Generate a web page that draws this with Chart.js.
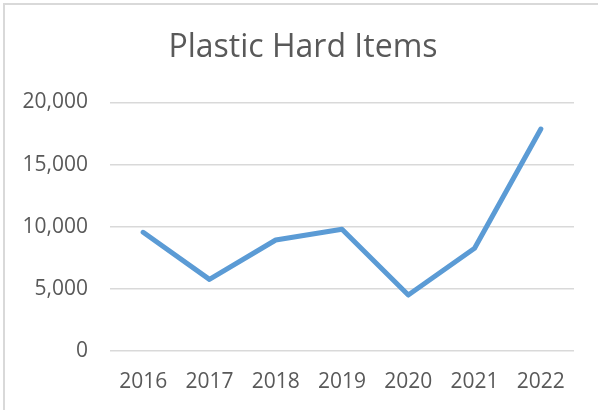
<!DOCTYPE html>
<html>
<head>
<meta charset="utf-8">
<script src="https://cdn.jsdelivr.net/npm/chart.js@4"></script>
<style>
  html, body { margin: 0; padding: 0; background: #fff; overflow: hidden; }
  #frame { position: absolute; left: 3px; top: 3px; width: 620px; height: 430px;
           border-left: 2px solid #d9d9d9; border-top: 2px solid #d9d9d9; }
  #wrap { position: absolute; left: 0; top: 0; width: 598px; height: 410px; }
</style>
</head>
<body>
<div id="frame"></div>
<div id="wrap"><canvas id="myChart"></canvas></div>
<script>
const years = ['2016', '2017', '2018', '2019', '2020', '2021', '2022'];
const items = [9550, 5760, 8930, 9790, 4500, 8260, 17860];
const yTicks = [0, 5000, 10000, 15000, 20000];

const font = 'Open Sans';
const ctx = document.getElementById('myChart').getContext('2d');

const myChart = new Chart(ctx, {
    type: 'line',
    data: {
        labels: years,
        datasets: [{
            label: 'Plastic Hard Items',
            data: items,
            borderColor: '#5b9bd5',
            backgroundColor: '#5b9bd5',
            borderWidth: 5,
            borderCapStyle: 'round',
            borderJoinStyle: 'round',
            pointRadius: 0,
            tension: 0,
            fill: false,
        }],
    },
    options: {
        responsive: true,
        maintainAspectRatio: false,
        animation: false,
        // small left padding puts the title centre at ~303px
        layout: { padding: { left: 8, right: 0, top: 0, bottom: 0 } },
        plugins: {
            legend: { display: false },
            tooltip: { enabled: false },
            title: {
                display: true,
                text: 'Plastic Hard Items',
                color: '#595959',
                font: { family: font, size: 32, weight: 'normal', lineHeight: 1.2 },
                padding: { top: 29, bottom: 35 },
            },
        },
        scales: {
            x: {
                offset: true,
                grid: { display: false, drawTicks: false },
                border: { display: false },
                ticks: {
                    color: '#595959',
                    font: { family: font, size: 21 },
                    padding: 18,
                    maxRotation: 0,
                },
                afterFit: function(scale) { scale.height = 59; },
            },
            y: {
                min: 0,
                max: 20000,
                afterBuildTicks: function(scale) {
                    scale.ticks = yTicks.map(v => ({ value: v }));
                },
                grid: { color: '#d9d9d9', lineWidth: 1.5, drawTicks: false },
                border: { display: false },
                ticks: {
                    color: '#595959',
                    font: { family: font, size: 21 },
                    padding: 22,
                    callback: function(value) {
                        return value.toLocaleString('en-US');
                    }
                },
                afterFit: function(scale) { scale.width = 102; },
            },
            // empty right axis, only keeps space on the right side
            yRight: {
                position: 'right',
                grid: { display: false, drawTicks: false },
                border: { display: false },
                ticks: { display: false },
                afterFit: function(scale) { scale.width = 24; },
            },
        },
    },
});
</script>
</body>
</html>
